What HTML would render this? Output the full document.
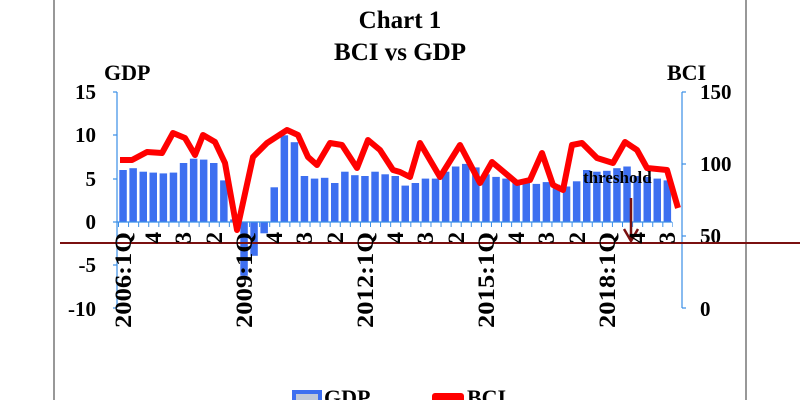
<!DOCTYPE html>
<html><head><meta charset="utf-8"><style>
html,body{margin:0;padding:0;background:#fff;}
svg{display:block;font-family:"Liberation Serif",serif;font-weight:bold;}
</style></head><body>
<svg width="800" height="400" viewBox="0 0 800 400" xmlns="http://www.w3.org/2000/svg">
<rect width="800" height="400" fill="#fff"/>
<line x1="54" y1="0" x2="54" y2="400" stroke="#777" stroke-width="1.5"/>
<line x1="746" y1="0" x2="746" y2="400" stroke="#777" stroke-width="1.5"/>
<text x="400" y="28" font-size="25" text-anchor="middle">Chart 1</text>
<text x="400" y="60" font-size="25" text-anchor="middle">BCI vs GDP</text>
<text x="104" y="80" font-size="22">GDP</text>
<text x="667" y="80" font-size="22">BCI</text>
<g font-size="21" text-anchor="end">
<text x="96" y="99">15</text><text x="96" y="142">10</text><text x="96" y="186">5</text>
<text x="96" y="229">0</text><text x="96" y="272">-5</text><text x="96" y="316">-10</text>
</g>
<g font-size="21">
<text x="700" y="99">150</text><text x="700" y="171">100</text><text x="700" y="243">50</text><text x="700" y="316">0</text>
</g>
<g stroke="#3a8ee6" stroke-width="1.2" fill="none">
<line x1="117" y1="92" x2="117" y2="308"/>
<line x1="113" y1="92" x2="117" y2="92"/><line x1="113" y1="135" x2="117" y2="135"/>
<line x1="113" y1="179" x2="117" y2="179"/><line x1="113" y1="222" x2="117" y2="222"/>
<line x1="113" y1="265" x2="117" y2="265"/><line x1="113" y1="308" x2="117" y2="308"/>
<line x1="682" y1="92" x2="682" y2="308"/>
<line x1="682" y1="92" x2="686" y2="92"/><line x1="682" y1="164" x2="686" y2="164"/>
<line x1="682" y1="236" x2="686" y2="236"/><line x1="682" y1="308" x2="686" y2="308"/>
</g>
<g fill="#3d6ff0">
<rect x="119.3" y="170.0" width="7.5" height="52.0"/>
<rect x="129.4" y="168.2" width="7.5" height="53.8"/>
<rect x="139.5" y="171.7" width="7.5" height="50.3"/>
<rect x="149.5" y="172.6" width="7.5" height="49.4"/>
<rect x="159.6" y="173.4" width="7.5" height="48.6"/>
<rect x="169.7" y="172.6" width="7.5" height="49.4"/>
<rect x="179.8" y="163.0" width="7.5" height="59.0"/>
<rect x="189.9" y="158.7" width="7.5" height="63.3"/>
<rect x="199.9" y="159.6" width="7.5" height="62.4"/>
<rect x="210.0" y="163.0" width="7.5" height="59.0"/>
<rect x="220.1" y="180.4" width="7.5" height="41.6"/>
<rect x="230.2" y="219.4" width="7.5" height="2.6"/>
<rect x="240.3" y="222" width="7.5" height="53.8"/>
<rect x="250.3" y="222" width="7.5" height="33.8"/>
<rect x="260.4" y="222" width="7.5" height="11.3"/>
<rect x="270.5" y="187.3" width="7.5" height="34.7"/>
<rect x="280.6" y="135.3" width="7.5" height="86.7"/>
<rect x="290.7" y="142.2" width="7.5" height="79.8"/>
<rect x="300.7" y="176.0" width="7.5" height="46.0"/>
<rect x="310.8" y="178.6" width="7.5" height="43.4"/>
<rect x="320.9" y="177.8" width="7.5" height="44.2"/>
<rect x="331.0" y="183.0" width="7.5" height="39.0"/>
<rect x="341.1" y="171.7" width="7.5" height="50.3"/>
<rect x="351.1" y="175.2" width="7.5" height="46.8"/>
<rect x="361.2" y="176.0" width="7.5" height="46.0"/>
<rect x="371.3" y="171.7" width="7.5" height="50.3"/>
<rect x="381.4" y="174.3" width="7.5" height="47.7"/>
<rect x="391.5" y="176.0" width="7.5" height="46.0"/>
<rect x="401.5" y="185.6" width="7.5" height="36.4"/>
<rect x="411.6" y="183.0" width="7.5" height="39.0"/>
<rect x="421.7" y="178.6" width="7.5" height="43.4"/>
<rect x="431.8" y="178.6" width="7.5" height="43.4"/>
<rect x="441.9" y="171.7" width="7.5" height="50.3"/>
<rect x="451.9" y="166.5" width="7.5" height="55.5"/>
<rect x="462.0" y="163.9" width="7.5" height="58.1"/>
<rect x="472.1" y="167.4" width="7.5" height="54.6"/>
<rect x="482.2" y="174.3" width="7.5" height="47.7"/>
<rect x="492.3" y="176.9" width="7.5" height="45.1"/>
<rect x="502.3" y="178.6" width="7.5" height="43.4"/>
<rect x="512.4" y="180.4" width="7.5" height="41.6"/>
<rect x="522.5" y="183.0" width="7.5" height="39.0"/>
<rect x="532.6" y="183.9" width="7.5" height="38.1"/>
<rect x="542.7" y="182.1" width="7.5" height="39.9"/>
<rect x="552.7" y="184.7" width="7.5" height="37.3"/>
<rect x="562.8" y="186.5" width="7.5" height="35.5"/>
<rect x="572.9" y="181.3" width="7.5" height="40.7"/>
<rect x="583.0" y="170.0" width="7.5" height="52.0"/>
<rect x="593.1" y="171.7" width="7.5" height="50.3"/>
<rect x="603.1" y="170.8" width="7.5" height="51.2"/>
<rect x="613.2" y="168.2" width="7.5" height="53.8"/>
<rect x="623.3" y="166.5" width="7.5" height="55.5"/>
<rect x="633.4" y="176.0" width="7.5" height="46.0"/>
<rect x="643.5" y="176.9" width="7.5" height="45.1"/>
<rect x="653.5" y="178.6" width="7.5" height="43.4"/>
<rect x="663.6" y="180.4" width="7.5" height="41.6"/>
</g>
<line x1="117" y1="222" x2="672" y2="222" stroke="#3a8ee6" stroke-width="1.2"/>
<line x1="118" y1="224.5" x2="673" y2="224.5" stroke="#3a8ee6" stroke-width="5" stroke-dasharray="1 9.08"/>
<polyline fill="none" stroke="#f00" stroke-width="6" stroke-linejoin="round" points="120,160 132,160 147,152 162,153 173,133 185,138 195,155 203,135 215,142 225,163 237,230 253,157 267,143 287,130 298,135 308,157 317,165 330,143 342,145 357,168 368,140 380,150 393,170 400,172 410,177 420,143 440,177 460,145 480,183 492,162 517,183 530,180 542,153 553,185 563,190 572,145 582,143 597,158 613,163 625,142 637,150 647,168 667,170 678,208"/>
<line x1="60" y1="243" x2="800" y2="243" stroke="#7a1010" stroke-width="2"/>
<text x="583" y="183" font-size="17">threshold</text>
<line x1="631" y1="198" x2="631" y2="241" stroke="#7a1010" stroke-width="2.5"/>
<polyline points="624,229 631,241 638,229" fill="none" stroke="#7a1010" stroke-width="2.5"/>
<g font-size="23" text-anchor="end">
<text x="131" y="232" transform="rotate(-90 131 232)" textLength="96" lengthAdjust="spacingAndGlyphs">2006:1Q</text>
<text x="161" y="232" transform="rotate(-90 161 232)">4</text>
<text x="191" y="232" transform="rotate(-90 191 232)">3</text>
<text x="222" y="232" transform="rotate(-90 222 232)">2</text>
<text x="252" y="232" transform="rotate(-90 252 232)" textLength="96" lengthAdjust="spacingAndGlyphs">2009:1Q</text>
<text x="282" y="232" transform="rotate(-90 282 232)">4</text>
<text x="312" y="232" transform="rotate(-90 312 232)">3</text>
<text x="343" y="232" transform="rotate(-90 343 232)">2</text>
<text x="373" y="232" transform="rotate(-90 373 232)" textLength="96" lengthAdjust="spacingAndGlyphs">2012:1Q</text>
<text x="403" y="232" transform="rotate(-90 403 232)">4</text>
<text x="433" y="232" transform="rotate(-90 433 232)">3</text>
<text x="464" y="232" transform="rotate(-90 464 232)">2</text>
<text x="494" y="232" transform="rotate(-90 494 232)" textLength="96" lengthAdjust="spacingAndGlyphs">2015:1Q</text>
<text x="524" y="232" transform="rotate(-90 524 232)">4</text>
<text x="554" y="232" transform="rotate(-90 554 232)">3</text>
<text x="585" y="232" transform="rotate(-90 585 232)">2</text>
<text x="615" y="232" transform="rotate(-90 615 232)" textLength="96" lengthAdjust="spacingAndGlyphs">2018:1Q</text>
<text x="645" y="232" transform="rotate(-90 645 232)">4</text>
<text x="675" y="232" transform="rotate(-90 675 232)">3</text>
</g>
<rect x="294" y="392" width="26" height="14" fill="#c0c8d8" stroke="#3d6ff0" stroke-width="4"/>
<text x="324" y="405" font-size="22">GDP</text>
<rect x="432" y="393" width="32" height="12" rx="3" fill="#f00"/>
<text x="467" y="405" font-size="22">BCI</text>
</svg>
</body></html>
